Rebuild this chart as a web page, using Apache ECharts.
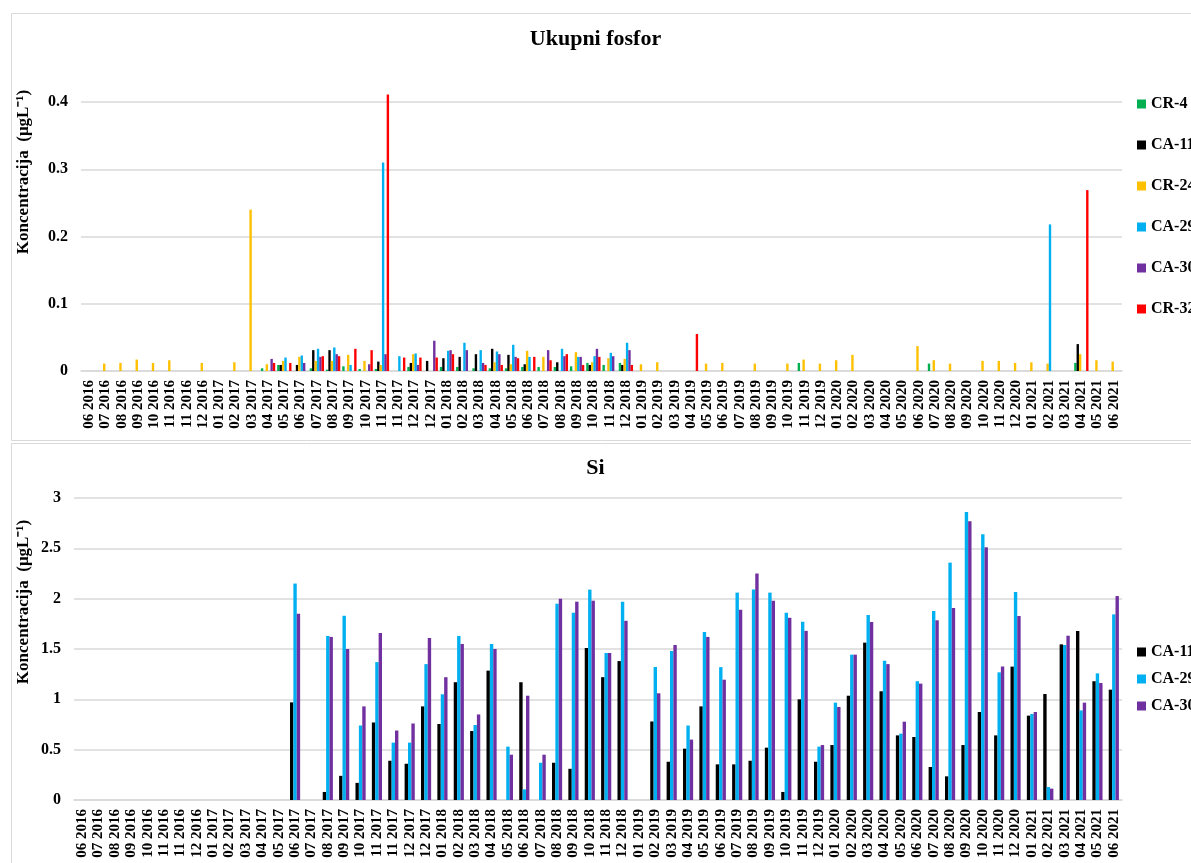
<!DOCTYPE html>
<html>
<head>
<meta charset="utf-8">
<script src="https://cdn.jsdelivr.net/npm/echarts@6/dist/echarts.min.js"></script>
<style>
html,body{margin:0;padding:0;background:#fff;}
#c{width:1191px;height:863px;}
</style>
</head>
<body>
<div id="c"></div>
<script>
var n = null;
var categories = [
 '06 2016','07 2016','08 2016','09 2016','10 2016','11 2016','11 2016','12 2016',
 '01 2017','02 2017','03 2017','04 2017','05 2017','06 2017','07 2017','08 2017',
 '09 2017','10 2017','11 2017','11 2017','12 2017','12 2017','01 2018','02 2018',
 '03 2018','04 2018','05 2018','06 2018','07 2018','08 2018','09 2018','10 2018',
 '11 2018','12 2018','01 2019','02 2019','03 2019','04 2019','05 2019','06 2019',
 '07 2019','08 2019','09 2019','10 2019','11 2019','12 2019','01 2020','02 2020',
 '03 2020','04 2020','05 2020','06 2020','07 2020','08 2020','09 2020','10 2020',
 '11 2020','12 2020','01 2021','02 2021','03 2021','04 2021','05 2021','06 2021'
];

// Ukupni fosfor
var pCR4 = [
 n,n,n,n,n,n,n,n,
 n,n,n,0.004,0.009,n,0.004,0.002,
 0.007,0.003,0.003,n,0.006,n,0.006,0.006,
 0.004,0.004,0.004,0.006,0.006,0.006,0.007,0.012,
 0.009,0.012,n,n,n,n,n,n,
 n,n,n,n,0.012,n,n,n,
 n,n,n,n,0.011,n,n,n,
 n,n,n,n,n,0.012,n,n
];
var pCA11 = [
 n,n,n,n,n,n,n,n,
 n,n,n,n,0.009,0.009,0.031,0.031,
 n,n,0.014,n,0.012,0.015,0.019,0.021,
 0.025,0.033,0.024,0.010,n,0.013,n,0.009,
 n,0.009,n,n,n,n,n,n,
 n,n,n,n,n,n,n,n,
 n,n,n,n,n,n,n,n,
 n,n,n,n,n,0.040,n,n
];
var pCR24 = [
 n,0.011,0.012,0.017,0.012,0.016,n,0.012,
 n,0.013,0.240,0.010,0.015,0.021,0.015,0.015,
 0.024,0.015,0.009,n,0.025,n,n,n,
 n,0.013,0.010,0.030,0.021,n,0.028,0.013,
 0.019,0.018,0.010,0.013,n,n,0.011,0.012,
 n,0.011,n,0.011,0.017,0.011,0.016,0.024,
 n,n,n,0.037,0.016,0.011,n,0.015,
 0.015,0.012,0.013,0.011,n,0.025,0.016,0.014
];
var pCA29 = [
 n,n,n,n,n,n,n,n,
 n,n,n,n,0.020,0.023,0.033,0.035,
 0.009,n,0.310,0.022,0.026,n,0.030,0.042,
 0.031,0.029,0.039,0.021,n,0.033,0.021,0.022,
 0.027,0.042,n,n,n,n,n,n,
 n,n,n,n,n,n,n,n,
 n,n,n,n,n,n,n,n,
 n,n,n,0.218,n,n,n,n
];
var pCA30 = [
 n,n,n,n,n,n,n,n,
 n,n,n,0.018,n,0.012,0.021,0.025,
 n,0.010,0.025,n,0.009,0.045,0.031,0.031,
 0.012,0.025,0.021,n,0.031,0.022,0.021,0.033,
 0.022,0.031,n,n,n,n,n,n,
 n,n,n,n,n,n,n,n,
 n,n,n,n,n,n,n,n,
 n,n,n,n,n,n,n,n
];
var pCR32 = [
 n,n,n,n,n,n,n,n,
 n,n,n,0.012,0.012,n,0.022,0.022,
 0.033,0.031,0.411,0.020,0.020,0.020,0.025,n,
 0.009,0.009,0.019,0.021,0.016,0.025,0.009,0.021,
 n,0.009,n,n,n,0.055,n,n,
 n,n,n,n,n,n,n,n,
 n,n,n,n,n,n,n,n,
 n,n,n,n,n,0.269,n,n
];

// Si
var sCA11 = [
 n,n,n,n,n,n,n,n,
 n,n,n,n,n,0.97,n,0.08,
 0.24,0.17,0.77,0.39,0.36,0.93,0.755,1.17,
 0.685,1.285,n,1.17,n,0.37,0.31,1.51,
 1.22,1.38,n,0.78,0.38,0.51,0.93,0.354,
 0.354,0.39,0.52,0.08,1.0,0.38,0.546,1.036,
 1.563,1.08,0.642,0.626,0.328,0.235,0.546,0.874,
 0.642,1.325,0.838,1.053,1.546,1.68,1.18,1.096
];
var sCA29 = [
 n,n,n,n,n,n,n,n,
 n,n,n,n,n,2.15,n,1.63,
 1.83,0.74,1.37,0.57,0.57,1.35,1.05,1.63,
 0.745,1.55,0.53,0.106,0.37,1.95,1.86,2.09,
 1.46,1.97,n,1.32,1.48,0.74,1.67,1.32,
 2.06,2.09,2.06,1.86,1.77,0.53,0.967,1.444,
 1.838,1.384,0.659,1.18,1.877,2.358,2.86,2.64,
 1.268,2.066,0.854,0.129,1.54,0.89,1.258,1.844
];
var sCA30 = [
 n,n,n,n,n,n,n,n,
 n,n,n,n,n,1.85,n,1.62,
 1.50,0.93,1.66,0.69,0.76,1.61,1.22,1.55,
 0.85,1.50,0.45,1.036,0.45,2.0,1.97,1.98,
 1.46,1.78,n,1.06,1.54,0.60,1.62,1.195,
 1.89,2.25,1.98,1.81,1.68,0.546,0.924,1.444,
 1.768,1.35,0.778,1.156,1.785,1.907,2.768,2.51,
 1.325,1.828,0.874,0.113,1.632,0.967,1.162,2.026
];

var colors = {'CR-4':'#00b050','CA-11':'#000000','CR-24':'#ffc000','CA-29':'#00b0f0','CA-30':'#7030a0','CR-32':'#ff0000'};
var FONT = '"Liberation Serif","Times New Roman",serif';
var yName = 'Koncentracija  (\u03BCgL\u207B\u00B9)';

var chart = echarts.init(document.getElementById('c'), null, {renderer:'canvas'});

function xAxisCfg(gi){
  return {
    type:'category', gridIndex:gi, data:categories,
    axisLine:{show:true, lineStyle:{color:'#d9d9d9', width:1.5}},
    axisTick:{show:false},
    axisLabel:{interval:0, rotate:90, margin:9, color:'#000', fontFamily:FONT, fontWeight:'bold', fontSize:15}
  };
}
function yAxisCfg(gi, max, interval){
  return {
    type:'value', gridIndex:gi, min:0, max:max, interval:interval,
    axisLine:{show:false}, axisTick:{show:false},
    splitLine:{lineStyle:{color:'#d9d9d9', width:1.5}},
    axisLabel:{margin:13, color:'#000', fontFamily:FONT, fontWeight:'bold', fontSize:16}
  };
}
function bar(name, data, gi, gap){
  return {
    type:'bar', name:name, data:data, xAxisIndex:gi, yAxisIndex:gi,
    clip:false, barGap:'0%', barCategoryGap:gap,
    itemStyle:{color:colors[name]}
  };
}

var option = {
  animation:false,
  backgroundColor:'#fff',
  title:[
    {text:'Ukupni fosfor', left:'center', top:23, textStyle:{fontFamily:FONT, fontWeight:'bold', fontSize:22, color:'#000'}},
    {text:'Si', left:'center', top:452, textStyle:{fontFamily:FONT, fontWeight:'bold', fontSize:22, color:'#000'}}
  ],
  grid:[
    {left:81, right:69, top:102, height:269},
    {left:74, right:69, top:498, height:302}
  ],
  xAxis:[xAxisCfg(0), xAxisCfg(1)],
  yAxis:[yAxisCfg(0, 0.4, 0.1), yAxisCfg(1, 3, 0.5)],
  legend:[
    {orient:'vertical', left:1137, top:96, padding:0, itemGap:25, itemWidth:9, itemHeight:9, icon:'rect',
     data:['CR-4','CA-11','CR-24','CA-29','CA-30','CR-32'],
     textStyle:{fontFamily:FONT, fontWeight:'bold', fontSize:16, color:'#000'}},
    {orient:'vertical', left:1137, top:644, padding:0, itemGap:11, itemWidth:9, itemHeight:9, icon:'rect',
     data:['CA-11','CA-29','CA-30'],
     textStyle:{fontFamily:FONT, fontWeight:'bold', fontSize:16, color:'#000'}}
  ],
  graphic:[
    {type:'rect', left:9, top:11, shape:{width:1200, height:427}, style:{fill:null, stroke:'#d9d9d9', lineWidth:1}, silent:true},
    {type:'rect', left:9, top:441, shape:{width:1200, height:440}, style:{fill:null, stroke:'#d9d9d9', lineWidth:1}, silent:true},
    {type:'text', x:24, y:172, rotation:Math.PI/2, style:{text:yName, font:'bold 17px '+FONT, fill:'#000', align:'center', verticalAlign:'middle'}, silent:true},
    {type:'text', x:24, y:602, rotation:Math.PI/2, style:{text:yName, font:'bold 17px '+FONT, fill:'#000', align:'center', verticalAlign:'middle'}, silent:true}
  ],
  series:[
    bar('CR-4', pCR4, 0, '12%'),
    bar('CA-11', pCA11, 0, '12%'),
    bar('CR-24', pCR24, 0, '12%'),
    bar('CA-29', pCA29, 0, '12%'),
    bar('CA-30', pCA30, 0, '12%'),
    bar('CR-32', pCR32, 0, '12%'),
    bar('CA-11', sCA11, 1, '38%'),
    bar('CA-29', sCA29, 1, '38%'),
    bar('CA-30', sCA30, 1, '38%')
  ]
};
chart.setOption(option);
</script>
</body>
</html>
